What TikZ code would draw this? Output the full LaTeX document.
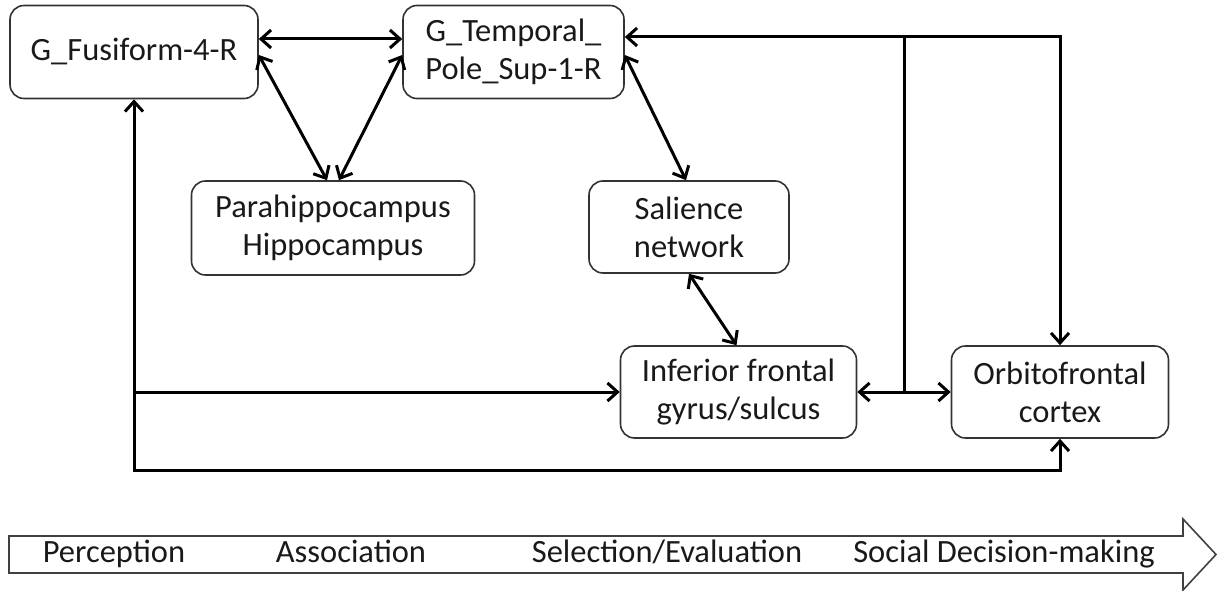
\documentclass[tikz,border=0pt]{standalone}
\usepackage{fontspec}
\setmainfont{Carlito}
\usepackage{tikz}
\usetikzlibrary{arrows.meta}
\usetikzlibrary{calc}

\begin{document}
\begin{tikzpicture}[x=1pt,y=1pt,
  box/.style={draw=black!80,line width=1.6pt,rounded corners=14pt,align=center,
    inner sep=0pt,font=\fontsize{32.5}{38}\selectfont,text=black!90},
  link/.style={line width=3pt,arrows={Straight Barb[length=10pt,width=18pt]-Straight Barb[length=10pt,width=18pt]}},
  plain/.style={line width=3pt},
  stage/.style={font=\fontsize{32.5}{38}\selectfont,text=black!90,inner sep=0pt,anchor=base}]
  \useasboundingbox (0,0) rectangle (1218,-591);
  \node[box,minimum width=248pt,minimum height=93pt] (fusiform) at (134,-52) {G\_Fusiform-4-R};
  \node[box,minimum width=221pt,minimum height=93pt] (temporal) at (513.5,-52) {G\_Temporal\_\\Pole\_Sup-1-R};
  \node[box,minimum width=283pt,minimum height=94pt] (hippo) at (333,-228) {Parahippocampus\\Hippocampus};
  \node[box,minimum width=200pt,minimum height=92pt] (salience) at (689,-227) {Salience\\network};
  \node[box,minimum width=236pt,minimum height=92pt] (ifg) at (738.5,-392) {Inferior frontal\\gyrus/sulcus};
  \node[box,minimum width=217pt,minimum height=92pt] (ofc) at (1060,-392) {Orbitofrontal\\cortex};
  \coordinate (bot) at (0,-470);
  \coordinate (top) at ([yshift=15pt]temporal.east);
  \coordinate (jn) at ($(ifg.east)!0.5!(ofc.west)$);
  \draw[link] ([yshift=13pt]fusiform.east) -- ([yshift=13pt]temporal.west);
  \draw[link] ([yshift=-3pt]fusiform.east) -- ([xshift=-6pt]hippo.north);
  \draw[link] ([yshift=-3pt]temporal.west) -- ([xshift=6pt]hippo.north);
  \draw[link] ([yshift=-3pt]temporal.east) -- ([xshift=-3pt]salience.north);
  \draw[link] (salience.south) -- ([xshift=-2pt]ifg.north);
  \draw[link] (ifg.east) -- (ofc.west);
  \draw[link] (top) -| (ofc.north);
  \draw[plain] (jn) -- (jn |- top);
  \draw[link] (fusiform.south) -- (fusiform.south |- bot) -| (ofc.south);
  \draw[link,-{Straight Barb[length=10pt,width=18pt]}] (fusiform.south |- ifg.west) -- (ifg.west);
  \draw[black!75,line width=1.6pt] (9,-536) -- (1183,-536) -- (1183,-519) -- (1216,-554.5)
    -- (1183,-590) -- (1183,-573) -- (9,-573) -- cycle;
  \node[stage] (perc) at (114,-562) {Perception};
  \node[stage] (assoc) at (351,-562) {Association};
  \node[stage] (selev) at (667,-562) {Selection/Evaluation};
  \node[stage] (social) at (1004,-562) {Social Decision-making};
\end{tikzpicture}
\end{document}
